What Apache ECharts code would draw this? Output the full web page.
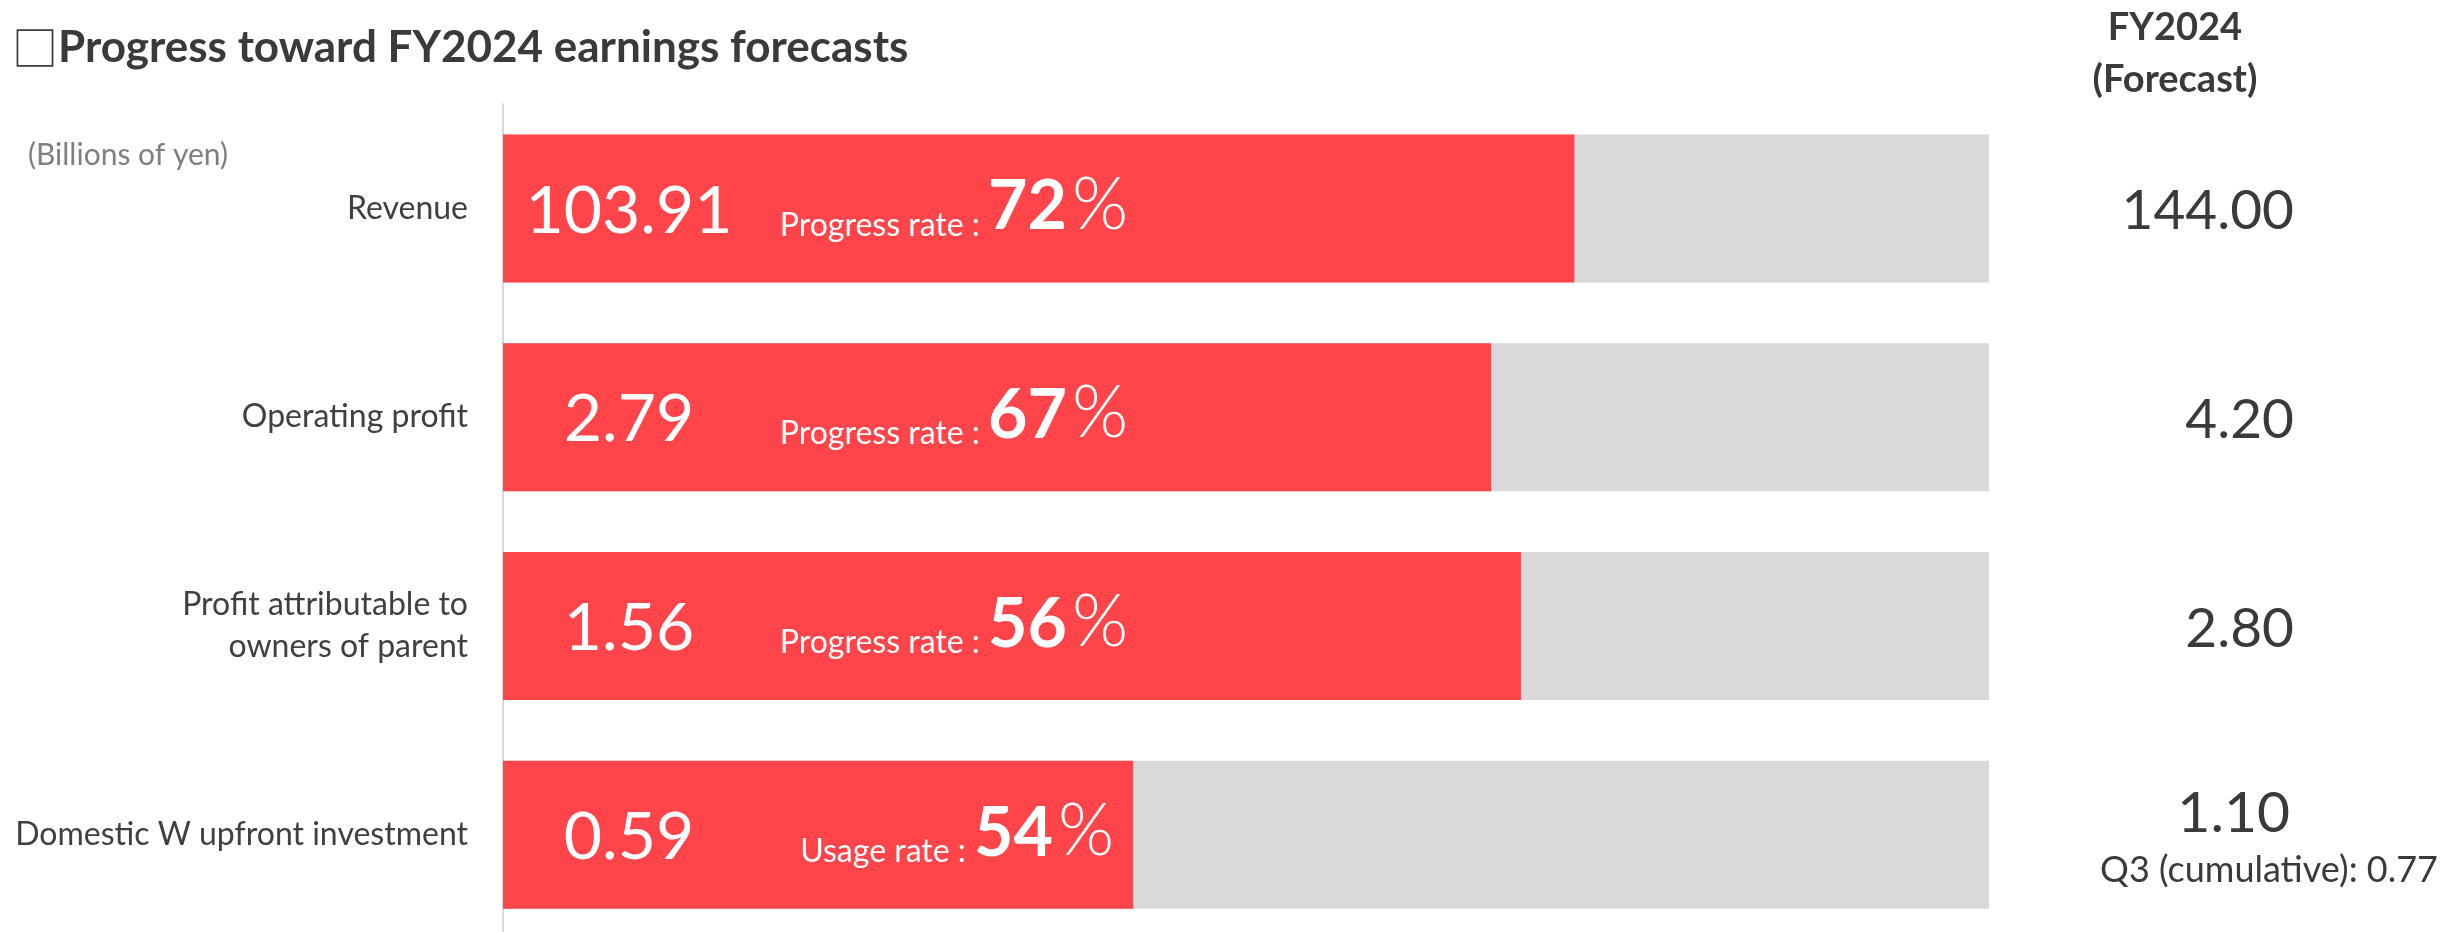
<!DOCTYPE html>
<html><head><meta charset="utf-8">
<script src="https://cdn.jsdelivr.net/npm/echarts@6/dist/echarts.min.js"></script>
<style>html,body{margin:0;padding:0;background:#fff}#c{width:2450px;height:932px}</style>
</head><body><div id="c"></div>
<script>
const categories = ['Revenue', 'Operating profit', 'Profit attributable to\nowners of parent', 'Domestic W upfront investment'];
const results = [103.91, 2.79, 1.56, 0.59];
const forecasts = [144.00, 4.20, 2.80, 1.10];
const rates = [72, 67, 56, 54];
const rateNames = ['Progress rate', 'Progress rate', 'Progress rate', 'Usage rate'];
const barFill = [72.1, 66.5, 68.5, 42.4];   // bar length as drawn, % of the track
const trackMax = 100;
const q3Cumulative = 0.77;

const FONT = 'Lato, "Noto Sans", sans-serif';
const RED = '#ff444a', GRAY = '#d9d9d9', TXT = '#3a3a3a';

const chart = echarts.init(document.getElementById('c'), null, {renderer: 'canvas'});
chart.setOption({
  animation: false,
  backgroundColor: '#fff',
  textStyle: {fontFamily: FONT},
  title: [
    {text: '{b|\u25A1}{t|Progress toward FY2024 earnings forecasts}', left: 12, top: 24, padding: 0,
     textStyle: {
       fontFamily: FONT, fontSize: 44, fontWeight: 'bold', color: TXT, lineHeight: 48,
       rich: {
         b: {fontFamily: '"Noto Sans CJK JP", "DejaVu Sans", sans-serif', fontSize: 46, fontWeight: 'normal', color: TXT, lineHeight: 48},
         t: {fontFamily: FONT, fontSize: 44, fontWeight: 'bold', color: TXT, lineHeight: 48}
       }
     }},
    {text: '(Billions of yen)', left: 28, top: 138, padding: 0,
     textStyle: {fontFamily: FONT, fontSize: 30, fontWeight: 'normal', color: '#7f7f7f', lineHeight: 34}},
    {text: 'FY2024\n(Forecast)', left: 2175, textAlign: 'center', top: 2, padding: 0,
     textStyle: {fontFamily: FONT, fontSize: 38, fontWeight: 'bold', color: TXT, lineHeight: 52}}
  ],
  grid: {left: 503, right: 461, top: 104, height: 835, containLabel: false, outerBoundsMode: 'none'},
  xAxis: {type: 'value', min: 0, max: trackMax, show: false, splitLine: {show: false}},
  yAxis: {
    type: 'category', inverse: true, data: categories,
    axisLine: {show: true, lineStyle: {color: GRAY, width: 2}},
    axisTick: {show: false},
    axisLabel: {margin: 35, fontFamily: FONT, fontSize: 32, color: '#404040', lineHeight: 42, align: 'right'}
  },
  series: [
    {
      name: 'track', type: 'bar', barWidth: 148, barGap: '-100%', silent: true, z: 1,
      itemStyle: {color: GRAY},
      data: forecasts.map((f, i) => {
        const item = {value: trackMax};
        if (i === 3) {
          item.label = {
            position: [1935, '50%'], align: 'right', verticalAlign: 'middle', offset: [0, 5],
            formatter: () => '{v|' + f.toFixed(2) + '}\n{q|Q3 (cumulative): ' + q3Cumulative.toFixed(2) + '}',
            rich: {
              v: {fontFamily: FONT, fontSize: 57, color: TXT, lineHeight: 62, align: 'right', padding: [0, 148, 0, 0]},
              q: {fontFamily: FONT, fontSize: 36, color: TXT, lineHeight: 52, align: 'right'}
            }
          };
        }
        return item;
      }),
      label: {
        show: true, position: [1791, '50%'], align: 'right', verticalAlign: 'middle', offset: [0, 3],
        fontFamily: FONT, fontSize: 55, color: TXT,
        formatter: p => forecasts[p.dataIndex].toFixed(2)
      }
    },
    {
      name: 'fill', type: 'bar', barWidth: 148, barGap: '-100%', silent: true, z: 2,
      itemStyle: {color: RED},
      data: barFill,
      label: {
        show: true, align: 'center', verticalAlign: 'middle', offset: [0, 3],
        position: [126, '50%'],
        fontFamily: FONT, fontSize: 66, color: '#fff',
        formatter: p => results[p.dataIndex].toFixed(2)
      }
    },
    {
      name: 'rate', type: 'bar', barWidth: 148, barGap: '-100%', silent: true, z: 3,
      itemStyle: {color: 'rgba(0,0,0,0)'},
      data: rates.map((r, i) => ({value: trackMax, label: {position: [i === 3 ? 611 : 625, '50%']}})),
      label: {
        show: true, align: 'right', verticalAlign: 'middle', offset: [0, 1],
        formatter: p => '{t|' + rateNames[p.dataIndex] + ' : }{n|' + rates[p.dataIndex] + '}{p|%}',
        rich: {
          t: {fontFamily: FONT, fontSize: 32, color: '#fff', lineHeight: 40, verticalAlign: 'bottom'},
          n: {fontFamily: FONT, fontSize: 68, fontWeight: 'bold', color: '#fff', lineHeight: 62, verticalAlign: 'bottom'},
          p: {fontFamily: FONT, fontSize: 72, fontWeight: 300, color: '#fff', lineHeight: 64, verticalAlign: 'bottom', padding: [0, 0, 0, 5]}
        }
      }
    }
  ]
});
</script>
</body></html>
